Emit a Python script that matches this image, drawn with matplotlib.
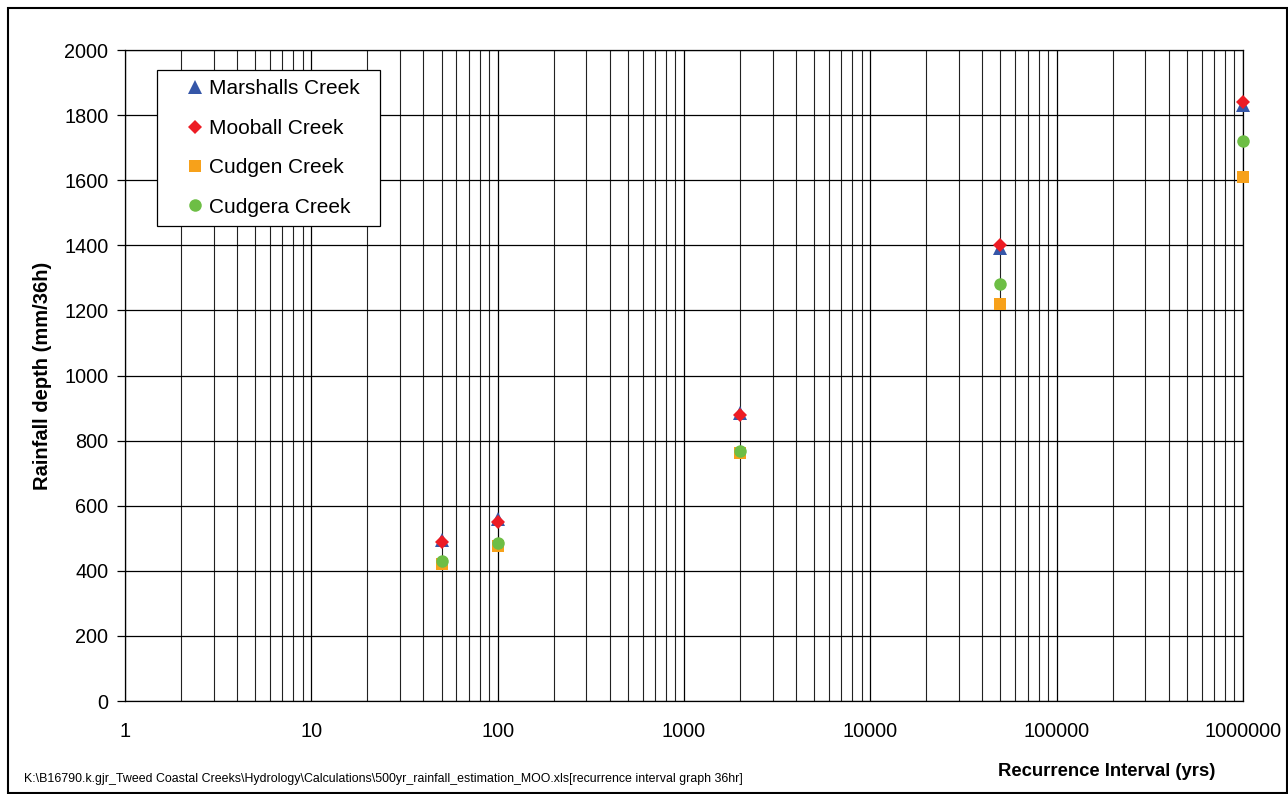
import matplotlib.pyplot as plt
from matplotlib.patches import Rectangle
from matplotlib.ticker import LogLocator, NullFormatter

plt.rcParams['font.family'] = ['Liberation Sans', 'DejaVu Sans']

# recurrence intervals (years)
intervals = [50, 100, 2000, 50000, 1000000]

# rainfall depth (mm/36h)
marshalls = [495, 558, 885, 1393, 1831]
mooball = [488, 550, 879, 1400, 1841]
cudgen = [421, 475, 762, 1220, 1610]
cudgera = [430, 485, 767, 1280, 1720]

series = [
    ("Marshalls Creek", marshalls, "^", "#3556A8", 10.5),
    ("Mooball Creek", mooball, "D", "#ED1C24", 7),
    ("Cudgen Creek", cudgen, "s", "#F7A11A", 8.5),
    ("Cudgera Creek", cudgera, "o", "#6DBE45", 9),
]

fig = plt.figure(figsize=(12.88, 7.94), dpi=100)
ax = fig.add_axes([0.097, 0.117, 0.868, 0.820])

for name, vals, mk, col, ms in series:
    ax.plot(intervals, vals, linestyle="none", marker=mk, color=col,
            markersize=ms, markeredgewidth=0, label=name, zorder=3,
            clip_on=False)

ax.set_xscale("log")
ax.set_xlim(1, 1e6)
ax.set_ylim(0, 2000)
ax.set_yticks(range(0, 2001, 200))
ax.xaxis.set_minor_locator(LogLocator(base=10, subs=range(2, 10), numticks=20))
ax.xaxis.set_minor_formatter(NullFormatter())
ax.set_xticks([1, 10, 100, 1000, 10000, 100000, 1000000])
ax.set_xticklabels(["1", "10", "100", "1000", "10000", "100000", "1000000"])

ax.grid(True, which="major", color="black", linewidth=0.9)
ax.grid(True, which="minor", axis="x", color="#222222", linewidth=0.8)
ax.tick_params(axis="both", which="major", labelsize=14.3, length=6, width=0.9,
               color="black", pad=6)
ax.tick_params(axis="x", which="minor", length=0)
ax.tick_params(axis="x", which="major", length=0, pad=15)
for s in ax.spines.values():
    s.set_color("black")
    s.set_linewidth(0.9)

ax.set_ylabel("Rainfall depth (mm/36h)", fontsize=14.5, fontweight="bold", labelpad=9)

leg = ax.legend(loc="upper left", bbox_to_anchor=(0.0286, 0.5, 0.1995, 0.4693),
                mode="expand", fontsize=15,
                frameon=True, fancybox=False, edgecolor="black", framealpha=1,
                handlelength=2.8, handletextpad=-0.75, labelspacing=0.98,
                borderpad=0.45, borderaxespad=0)
leg.get_frame().set_linewidth(0.9)

fig.text(0.859, 0.028, "Recurrence Interval (yrs)", fontsize=13.3, fontweight="bold",
         ha="center", va="center")
fig.text(0.019, 0.019,
         r"K:\B16790.k.gjr_Tweed Coastal Creeks\Hydrology\Calculations\500yr_rainfall_estimation_MOO.xls[recurrence interval graph 36hr]",
         fontsize=8.9, ha="left", va="center")

fig.patches.append(Rectangle((8 / 1288, 0.001), 1 - 8 / 1288 - 0.0005, 1 - 8 / 794 - 0.001,
                             transform=fig.transFigure, fill=False,
                             edgecolor="black", linewidth=1.5))

fig.savefig("out.png", dpi=100)
